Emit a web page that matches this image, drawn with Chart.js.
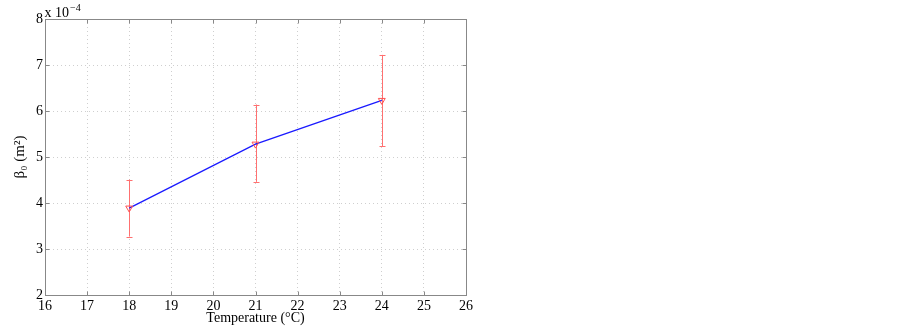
<!DOCTYPE html>
<html>
<head>
<meta charset="utf-8">
<script src="https://cdn.jsdelivr.net/npm/chart.js@4.4.1/dist/chart.umd.min.js"></script>
<style>
 html, body { margin: 0; padding: 0; background: #fff; }
 canvas { display: block; }
</style>
</head>
<body>
<canvas id="betaChart" width="902" height="327"></canvas>
<script>
// temperature (°C) and beta0 (x 10^-4 m^2)
var temps = [18, 21, 24];
var beta = [3.89, 5.28, 6.23];
var errLow = [3.27, 4.46, 5.23];
var errHigh = [4.51, 6.14, 7.22];

var xTicks = [16, 17, 18, 19, 20, 21, 22, 23, 24, 25, 26];
var yTicks = [2, 3, 4, 5, 6, 7, 8];

var serif = "'Liberation Serif', 'DejaVu Serif', serif";

// error bars, frame, inward ticks, exponent label
var matlabPlugin = {
 id: "matlab",
 beforeDatasetsDraw: function (chart) {
  var ctx = chart.ctx;
  var xs = chart.scales.x;
  var ys = chart.scales.y;
  ctx.save();
  ctx.strokeStyle = "#ff7070";
  ctx.lineWidth = 1;
  for (var i = 0; i < temps.length; i++) {
   var px = Math.round(xs.getPixelForValue(temps[i])) + 0.5;
   var top = ys.getPixelForValue(errHigh[i]);
   var bot = ys.getPixelForValue(errLow[i]);
   ctx.beginPath();
   ctx.moveTo(px, top);
   ctx.lineTo(px, bot);
   ctx.moveTo(px - 3, Math.round(top) + 0.5);
   ctx.lineTo(px + 3, Math.round(top) + 0.5);
   ctx.moveTo(px - 3, Math.round(bot) + 0.5);
   ctx.lineTo(px + 3, Math.round(bot) + 0.5);
   ctx.stroke();
  }
  ctx.restore();
 },
 afterDraw: function (chart) {
  var ctx = chart.ctx;
  var a = chart.chartArea;
  var xs = chart.scales.x;
  var ys = chart.scales.y;
  ctx.save();
  ctx.strokeStyle = "#888";
  ctx.lineWidth = 1;
  var l = Math.round(a.left) + 0.5, r = Math.round(a.right) + 0.5;
  var t = Math.round(a.top) + 0.5, b = Math.round(a.bottom) + 0.5;
  ctx.strokeRect(l, t, r - l, b - t);
  ctx.beginPath();
  xTicks.forEach(function (v) {
   var p = Math.round(xs.getPixelForValue(v)) + 0.5;
   ctx.moveTo(p, b); ctx.lineTo(p, b - 4);
   ctx.moveTo(p, t); ctx.lineTo(p, t + 4);
  });
  yTicks.forEach(function (v) {
   var p = Math.round(ys.getPixelForValue(v)) + 0.5;
   ctx.moveTo(l, p); ctx.lineTo(l + 4, p);
   ctx.moveTo(r, p); ctx.lineTo(r - 4, p);
  });
  ctx.stroke();

  ctx.fillStyle = "#000";
  ctx.textBaseline = "alphabetic";
  ctx.textAlign = "left";
  ctx.font = "14px " + serif;
  ctx.fillText("x 10", l - 1, t - 3);
  var w = ctx.measureText("x 10").width;
  ctx.font = "10px " + serif;
  ctx.fillText("\u22124", l - 1 + w + 1, t - 9);
  ctx.restore();
 }
};

new Chart(document.getElementById("betaChart"), {
 type: "line",
 data: {
  datasets: [
   {
    label: "beta0",
    data: temps.map(function (t, i) { return { x: t, y: beta[i] }; }),
    borderColor: "#1a1aff",
    borderWidth: 1.3,
    pointStyle: "triangle",
    rotation: 180,
    pointRadius: 4,
    pointBorderColor: "#ff5050",
    pointBackgroundColor: "rgba(0,0,0,0)",
    pointBorderWidth: 1,
    tension: 0,
   },
  ],
 },
 options: {
  responsive: false,
  animation: false,
  layout: { padding: { top: 19, right: 436, left: 0, bottom: 0 } },
  plugins: { legend: { display: false }, tooltip: { enabled: false } },
  scales: {
   x: {
    type: "linear",
    min: 16,
    max: 26,
    afterBuildTicks: function (s) { s.ticks = xTicks.map(function (v) { return { value: v }; }); },
    afterFit: function (s) { s.height = 32; },
    grid: {
     color: function (c) { return (c.tick && (c.tick.value === 16 || c.tick.value === 26)) ? "rgba(0,0,0,0)" : "#cfcfcf"; },
     borderDash: [1, 3],
     drawTicks: false,
    },
    border: { display: false, dash: [1, 3] },
    ticks: { color: "#000", font: { family: serif, size: 14 }, padding: 3, maxRotation: 0 },
    title: {
     display: true,
     text: "Temperature (\u00b0C)",
     color: "#000",
     font: { family: serif, size: 14 },
     padding: { top: -3, bottom: 0 },
    },
   },
   y: {
    type: "linear",
    min: 2,
    max: 8,
    afterBuildTicks: function (s) { s.ticks = yTicks.map(function (v) { return { value: v }; }); },
    afterFit: function (s) { s.width = 45; },
    grid: {
     color: function (c) { return (c.tick && (c.tick.value === 2 || c.tick.value === 8)) ? "rgba(0,0,0,0)" : "#cfcfcf"; },
     borderDash: [1, 3],
     drawTicks: false,
    },
    border: { display: false, dash: [1, 3] },
    ticks: { color: "#000", font: { family: serif, size: 14 }, padding: 2 },
    title: {
     display: true,
     text: "\u03b2\u2080 (m\u00b2)",
     color: "#000",
     font: { family: serif, size: 15 },
     padding: { top: 11, bottom: 0 },
    },
   },
  },
 },
 plugins: [matlabPlugin],
});
</script>
</body>
</html>
